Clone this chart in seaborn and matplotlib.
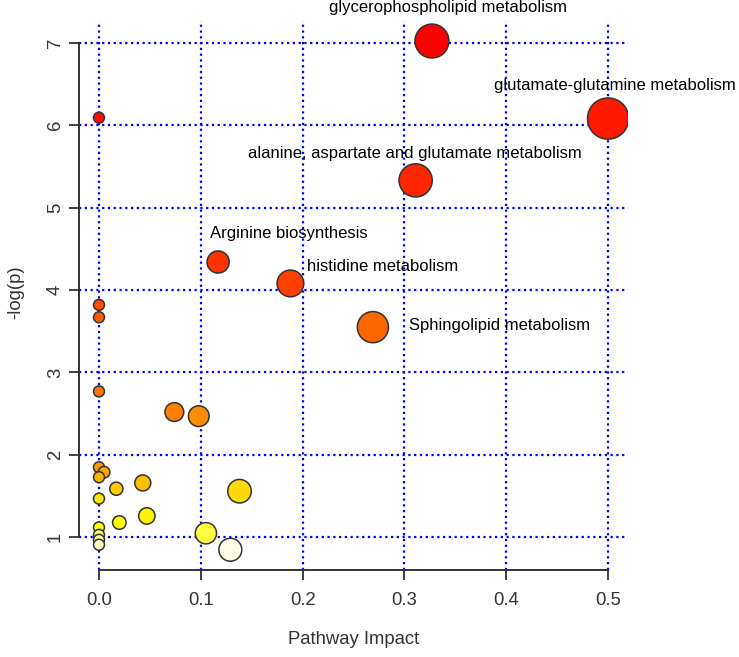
import colorsys
import numpy as np
import pandas as pd
import matplotlib
matplotlib.use("Agg")
import matplotlib.pyplot as plt
import seaborn as sns

# ---- data ----
pathway = [
    "glycerophospholipid metabolism", "glutamate-glutamine metabolism",
    "alanine, aspartate and glutamate metabolism", "Arginine biosynthesis",
    "histidine metabolism", "Sphingolipid metabolism",
    "p07", "p08", "p09", "p10", "p11", "p12", "p13", "p14", "p15", "p16",
    "p17", "p18", "p19", "p20", "p21", "p22", "p23", "p24", "p25", "p26", "p27",
]
impact = [0.327, 0.500, 0.311, 0.117, 0.188, 0.269,
          0.000, 0.000, 0.000, 0.000, 0.074, 0.098, 0.000, 0.005, 0.000, 0.017,
          0.043, 0.000, 0.138, 0.020, 0.047, 0.000, 0.000, 0.000, 0.000, 0.105, 0.129]
neglogp = [7.02, 6.08, 5.33, 4.34, 4.08, 3.55,
           6.09, 3.82, 3.67, 2.77, 2.52, 2.47, 1.85, 1.79, 1.73, 1.59,
           1.66, 1.47, 1.56, 1.18, 1.26, 1.12, 1.03, 0.97, 0.91, 1.05, 0.85]
labelled = ["glycerophospholipid metabolism", "glutamate-glutamine metabolism",
            "alanine, aspartate and glutamate metabolism", "Arginine biosynthesis",
            "histidine metabolism", "Sphingolipid metabolism"]
x_ticks = [0.0, 0.1, 0.2, 0.3, 0.4, 0.5]
y_ticks = [1, 2, 3, 4, 5, 6, 7]

# label anchor offsets relative to each point (data units)
label_offsets = {
    "glycerophospholipid metabolism": (0.016, 0.41),
    "glutamate-glutamine metabolism": (0.007, 0.40),
    "alanine, aspartate and glutamate metabolism": (-0.001, 0.33),
    "Arginine biosynthesis": (0.069, 0.35),
    "histidine metabolism": (0.091, 0.20),
    "Sphingolipid metabolism": (0.124, 0.02),
}


def heat_colors(n):
    """R's heat.colors(n)."""
    j = n // 4
    i = n - j
    cols = [colorsys.hsv_to_rgb(h, 1, 1) for h in np.linspace(0, 1 / 6, i)]
    if j > 0:
        cols += [colorsys.hsv_to_rgb(1 / 6, s, 1)
                 for s in np.linspace(1 - 1 / (2 * j), 1 / (2 * j), j)]
    return cols


df = pd.DataFrame({"pathway": pathway, "impact": impact, "neglogp": neglogp})
df = df.sort_values("neglogp", ascending=False, kind="stable").reset_index(drop=True)
palette = dict(zip(df["pathway"], heat_colors(len(df))))

fig = plt.figure(figsize=(7.39, 6.57), dpi=100)
ax = fig.add_axes([0.1064, 0.1324, 0.744, 0.835])

sns.scatterplot(data=df, x="impact", y="neglogp", hue="pathway", palette=palette,
                hue_order=list(df["pathway"]), size="impact", sizes=(62, 880),
                size_norm=(0, 0.5), edgecolor="#333333", linewidth=1.1,
                alpha=1, legend=False, ax=ax, zorder=3)

for name in labelled:
    row = df[df["pathway"] == name].iloc[0]
    dx, dy = label_offsets[name]
    ax.text(row["impact"] + dx, row["neglogp"] + dy, name, ha="center", va="center",
            fontsize=12, family="Liberation Sans", color="black", clip_on=False,
            zorder=4)

ax.set_xlim(-0.02, 0.52)
ax.set_ylim(0.604, 7.258)
ax.set_xticks(x_ticks)
ax.set_xticklabels([f"{v:.1f}" for v in x_ticks])
ax.set_yticks(y_ticks)
ax.set_yticklabels([str(v) for v in y_ticks], rotation=90, va="center")

ax.set_axisbelow(True)
ax.grid(True, color="blue", linestyle=(0, (1, 1.6)), linewidth=1.6)

for s in ["top", "right"]:
    ax.spines[s].set_visible(False)
ax.spines["left"].set_bounds(1, 7)
ax.spines["bottom"].set_bounds(0, 0.5)
for s in ["left", "bottom"]:
    ax.spines[s].set_color("#333333")
    ax.spines[s].set_linewidth(1.4)

ax.tick_params(axis="both", direction="out", length=7.5, width=1.3, color="#333333",
               labelcolor="#333333", labelsize=13.3)
ax.tick_params(axis="x", pad=8)
ax.tick_params(axis="y", pad=3)
for lab in ax.get_xticklabels() + ax.get_yticklabels():
    lab.set_family("Liberation Sans")

ax.set_xlabel("Pathway Impact", fontsize=13.3, family="Liberation Sans", color="#333333")
ax.set_ylabel("-log(p)", fontsize=13.3, family="Liberation Sans", color="#333333")
ax.xaxis.set_label_coords(0.5, -0.111)
ax.yaxis.set_label_coords(-0.099, 0.507)

fig.savefig("out.png", dpi=100)
